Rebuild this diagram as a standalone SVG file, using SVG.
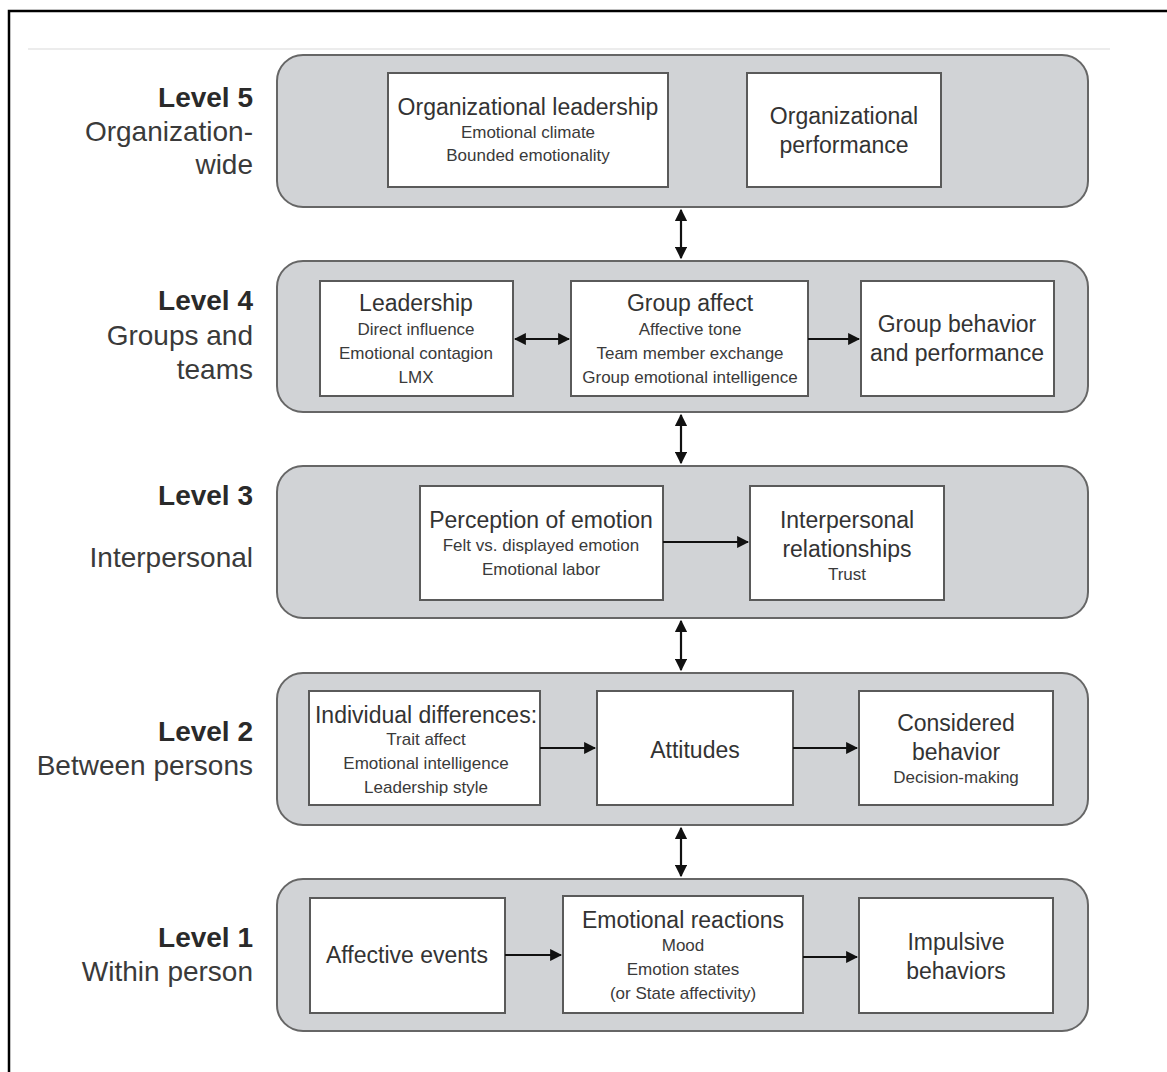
<svg xmlns="http://www.w3.org/2000/svg" width="1167" height="1072" viewBox="0 0 1167 1072">
<style>
.panel{fill:#d1d3d6;stroke:#666;stroke-width:2}
.box{fill:#fff;stroke:#5a5a5a;stroke-width:2}
text{font-family:"Liberation Sans",Arial,sans-serif;fill:#333;text-anchor:middle}
.lvl{font-size:28px;font-weight:bold;text-anchor:end;fill:#2a2a2a}
.sub{font-size:28px;text-anchor:end;fill:#3a3a3a}
.t{font-size:23px;fill:#333}
.s{font-size:17px;fill:#3a3a3a}
.c{stroke:#111;stroke-width:2.2;fill:none}
</style>
<defs>
<marker id="ah" viewBox="0 0 10 10" refX="9" refY="5" markerWidth="5.5" markerHeight="5.5" orient="auto-start-reverse" markerUnits="strokeWidth">
<path d="M0,0 L10,5 L0,10 z" fill="#111"/>
</marker>
</defs>
<rect x="0" y="0" width="1167" height="1072" fill="#fff"/>
<path d="M9,1072 L9,11 L1167,11" fill="none" stroke="#000" stroke-width="2.5"/>
<line x1="28" y1="49" x2="1110" y2="49" stroke="#ececec" stroke-width="2"/>

<g id="level5">
<rect class="panel" x="277" y="55" width="811" height="152" rx="26"/>
<text class="lvl" x="253" y="107">Level 5</text>
<text class="sub" x="253" y="141">Organization-</text>
<text class="sub" x="253" y="174">wide</text>
</g>
<g id="org-leadership">
<rect class="box" x="388" y="73" width="280" height="114"/>
<text class="t" x="528" y="115">Organizational leadership</text>
<text class="s" x="528" y="138">Emotional climate</text>
<text class="s" x="528" y="161">Bounded emotionality</text>
</g>
<g id="org-performance">
<rect class="box" x="747" y="73" width="194" height="114"/>
<text class="t" x="844" y="124">Organizational</text>
<text class="t" x="844" y="153">performance</text>
</g>

<g id="level4">
<rect class="panel" x="277" y="261" width="811" height="151" rx="26"/>
<text class="lvl" x="253" y="310">Level 4</text>
<text class="sub" x="253" y="345">Groups and</text>
<text class="sub" x="253" y="379">teams</text>
</g>
<g id="leadership">
<rect class="box" x="320" y="281" width="193" height="115"/>
<text class="t" x="416" y="311">Leadership</text>
<text class="s" x="416" y="335">Direct influence</text>
<text class="s" x="416" y="359">Emotional contagion</text>
<text class="s" x="416" y="383">LMX</text>
</g>
<g id="group-affect">
<rect class="box" x="571" y="281" width="237" height="115"/>
<text class="t" x="690" y="311">Group affect</text>
<text class="s" x="690" y="335">Affective tone</text>
<text class="s" x="690" y="359">Team member exchange</text>
<text class="s" x="690" y="383">Group emotional intelligence</text>
</g>
<g id="group-behavior">
<rect class="box" x="861" y="281" width="193" height="115"/>
<text class="t" x="957" y="332">Group behavior</text>
<text class="t" x="957" y="361">and performance</text>
</g>

<g id="level3">
<rect class="panel" x="277" y="466" width="811" height="152" rx="26"/>
<text class="lvl" x="253" y="505">Level 3</text>
<text class="sub" x="253" y="567">Interpersonal</text>
</g>
<g id="perception">
<rect class="box" x="420" y="486" width="243" height="114"/>
<text class="t" x="541" y="528">Perception of emotion</text>
<text class="s" x="541" y="551">Felt vs. displayed emotion</text>
<text class="s" x="541" y="575">Emotional labor</text>
</g>
<g id="interpersonal-relationships">
<rect class="box" x="750" y="486" width="194" height="114"/>
<text class="t" x="847" y="528">Interpersonal</text>
<text class="t" x="847" y="557">relationships</text>
<text class="s" x="847" y="580">Trust</text>
</g>

<g id="level2">
<rect class="panel" x="277" y="673" width="811" height="152" rx="26"/>
<text class="lvl" x="253" y="741">Level 2</text>
<text class="sub" x="253" y="775">Between persons</text>
</g>
<g id="individual-differences">
<rect class="box" x="309" y="691" width="231" height="114"/>
<text class="t" x="426" y="723">Individual differences:</text>
<text class="s" x="426" y="745">Trait affect</text>
<text class="s" x="426" y="769">Emotional intelligence</text>
<text class="s" x="426" y="793">Leadership style</text>
</g>
<g id="attitudes">
<rect class="box" x="597" y="691" width="196" height="114"/>
<text class="t" x="695" y="758">Attitudes</text>
</g>
<g id="considered-behavior">
<rect class="box" x="859" y="691" width="194" height="114"/>
<text class="t" x="956" y="731">Considered</text>
<text class="t" x="956" y="760">behavior</text>
<text class="s" x="956" y="783">Decision-making</text>
</g>

<g id="level1">
<rect class="panel" x="277" y="879" width="811" height="152" rx="26"/>
<text class="lvl" x="253" y="947">Level 1</text>
<text class="sub" x="253" y="981">Within person</text>
</g>
<g id="affective-events">
<rect class="box" x="310" y="898" width="195" height="115"/>
<text class="t" x="407" y="963">Affective events</text>
</g>
<g id="emotional-reactions">
<rect class="box" x="563" y="896" width="240" height="117"/>
<text class="t" x="683" y="928">Emotional reactions</text>
<text class="s" x="683" y="951">Mood</text>
<text class="s" x="683" y="975">Emotion states</text>
<text class="s" x="683" y="999">(or State affectivity)</text>
</g>
<g id="impulsive-behaviors">
<rect class="box" x="859" y="898" width="194" height="115"/>
<text class="t" x="956" y="950">Impulsive</text>
<text class="t" x="956" y="979">behaviors</text>
</g>

<g id="connectors">
<line class="c" x1="681" y1="210" x2="681" y2="258" marker-start="url(#ah)" marker-end="url(#ah)"/>
<line class="c" x1="681" y1="415" x2="681" y2="463" marker-start="url(#ah)" marker-end="url(#ah)"/>
<line class="c" x1="681" y1="621" x2="681" y2="670" marker-start="url(#ah)" marker-end="url(#ah)"/>
<line class="c" x1="681" y1="828" x2="681" y2="876" marker-start="url(#ah)" marker-end="url(#ah)"/>
<line class="c" x1="515" y1="339" x2="569" y2="339" marker-start="url(#ah)" marker-end="url(#ah)"/>
<line class="c" x1="808" y1="339" x2="859" y2="339" marker-end="url(#ah)"/>
<line class="c" x1="663" y1="542" x2="748" y2="542" marker-end="url(#ah)"/>
<line class="c" x1="540" y1="748" x2="595" y2="748" marker-end="url(#ah)"/>
<line class="c" x1="793" y1="748" x2="857" y2="748" marker-end="url(#ah)"/>
<line class="c" x1="505" y1="955" x2="561" y2="955" marker-end="url(#ah)"/>
<line class="c" x1="803" y1="957" x2="857" y2="957" marker-end="url(#ah)"/>
</g>
</svg>
